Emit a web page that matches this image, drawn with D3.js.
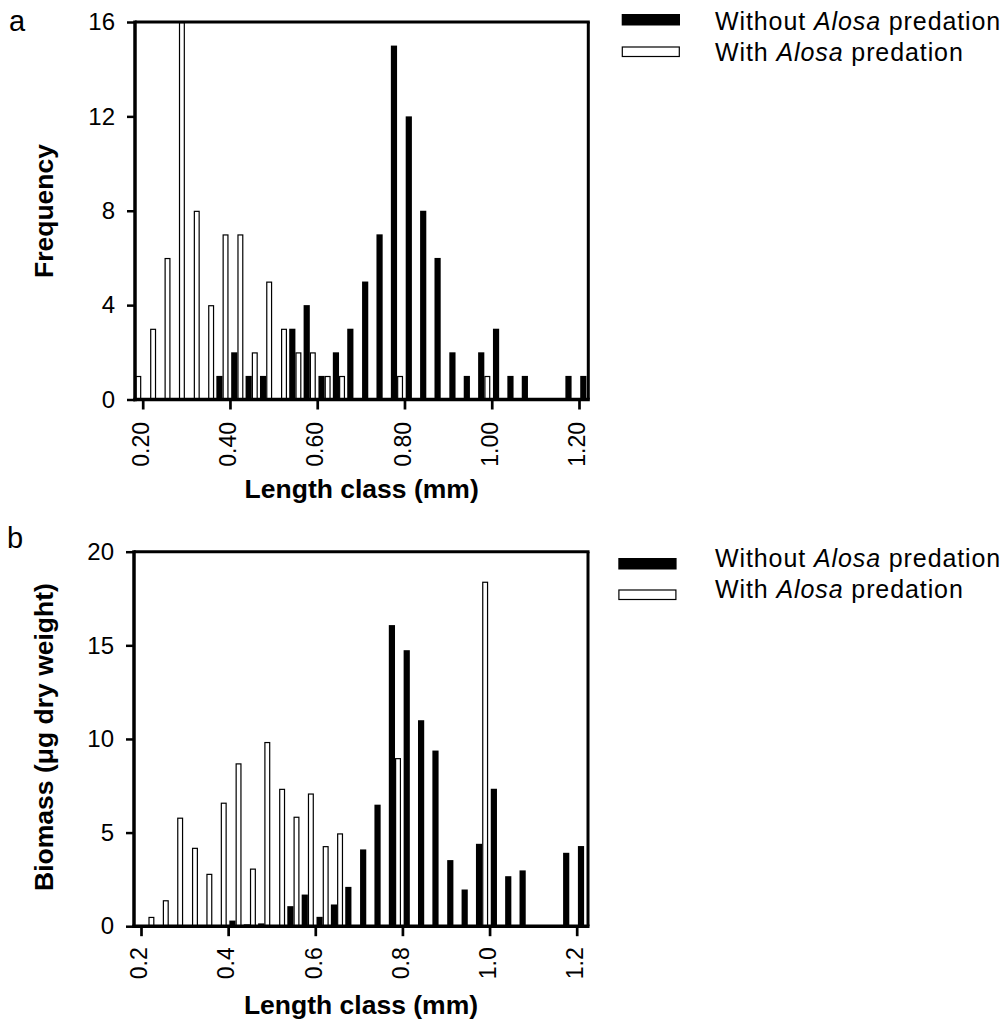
<!DOCTYPE html>
<html>
<head>
<meta charset="utf-8">
<script src="https://cdn.jsdelivr.net/npm/d3@7"></script>
<style>
  body { margin: 0; background: #fff; }
  svg { display: block; font-family: "Liberation Sans", Arial, sans-serif; }
</style>
</head>
<body>
<svg width="1006" height="1032"></svg>
<script>
// length classes (mm), one pair of bars per class
var lengthClass = [0.183, 0.217, 0.250, 0.283, 0.317, 0.350, 0.383, 0.417, 0.450, 0.483,
                   0.517, 0.550, 0.583, 0.617, 0.650, 0.683, 0.717, 0.750, 0.783, 0.817,
                   0.850, 0.883, 0.917, 0.950, 0.983, 1.017, 1.050, 1.083, 1.117, 1.150,
                   1.183, 1.217];

// panel a: frequency
var freqWithout = [0, 0, 0, 0, 0, 0, 1, 2, 1, 1,
                   0, 3, 4, 1, 2, 3, 5, 7, 15, 12,
                   8, 6, 2, 1, 2, 3, 1, 1, 0, 0,
                   1, 1];
var freqWith = [1, 3, 6, 16, 8, 4, 7, 7, 2, 5,
                3, 2, 2, 1, 1, 0, 0, 0, 1, 0,
                0, 0, 0, 0, 1, 0, 0, 0, 0, 0,
                0, 0];

// panel b: biomass (ug dry weight)
var biomassWithout = [0, 0, 0, 0, 0, 0, 0.05, 0.3, 0.1, 0.15,
                      0, 1.07, 1.69, 0.5, 1.16, 2.1, 4.1, 6.49, 16.08, 14.74,
                      11.0, 9.38, 3.53, 1.96, 4.4, 7.34, 2.67, 2.98, 0, 0,
                      3.92, 4.28];
var biomassWith = [0, 0.5, 1.39, 5.8, 4.19, 2.8, 6.6, 8.7, 3.08, 9.84,
                   7.34, 5.85, 7.09, 4.28, 4.96, 0, 0, 0, 8.98, 0,
                   0, 0, 0, 0, 18.4, 0, 0, 0, 0, 0,
                   0, 0];

var freqTicks = [0, 4, 8, 12, 16];
var biomassTicks = [0, 5, 10, 15, 20];
var lengthTicks = [0.2, 0.4, 0.6, 0.8, 1.0, 1.2];
var legendNames = ['Without', 'With'];

var svg = d3.select('svg');
var font = '"Liberation Sans", Arial, sans-serif';
var bw = 6.2;

var panels = [
    { letter: 'a', top: 22, bottom: 399.5, left: 135, right: 588.3, x0: 142.7, x1: 579,
      yMax: 16, ticks: freqTicks, fmt: '.2f', without: freqWithout, with: freqWith,
      ylabel: 'Frequency', ylabelY: 211, xlabelY: 498, tickGap: 22.5,
      letterX: 9, letterY: 31, legX: 621.7, legY: [14, 47], legTextY: [30, 61] },
    { letter: 'b', top: 551.7, bottom: 926.2, left: 134, right: 588, x0: 141, x1: 576.7,
      yMax: 20, ticks: biomassTicks, fmt: '.1f', without: biomassWithout, with: biomassWith,
      ylabel: 'Biomass (\u03bcg dry weight)', ylabelY: 737, xlabelY: 1014, tickGap: 21,
      letterX: 7, letterY: 548, legX: 618.3, legY: [558, 590], legTextY: [567, 598] }
];

panels.forEach(drawPanel);

function drawPanel(p) {
    var x = d3.scaleLinear().domain([0.2, 1.2]).range([p.x0, p.x1]);
    var y = d3.scaleLinear().domain([0, p.yMax]).range([p.bottom, p.top]);
    var g = svg.append('g');

    var rows = lengthClass.map(function(c, i) {
        return { c: c, without: p.without[i], with: p.with[i] };
    });

    // black bars (left of class mark)
    g.selectAll('rect.black')
        .data(rows.filter(function(d) { return d.without > 0; }))
        .enter()
        .append('rect')
        .attr('class', 'black')
        .attr('x', function(d) { return x(d.c) - bw; })
        .attr('y', function(d) { return y(d.without); })
        .attr('width', bw)
        .attr('height', function(d) { return y(0) - y(d.without); })
        .attr('fill', '#000');

    // open bars (right of class mark)
    g.selectAll('rect.open')
        .data(rows.filter(function(d) { return d.with > 0; }))
        .enter()
        .append('rect')
        .attr('class', 'open')
        .attr('x', function(d) { return x(d.c) + 0.6; })
        .attr('y', function(d) { return y(d.with) + 0.6; })
        .attr('width', bw - 1.4)
        .attr('height', function(d) { return Math.max(0, y(0) - y(d.with) - 0.6); })
        .attr('fill', '#fff')
        .attr('stroke', '#000')
        .attr('stroke-width', 1.2);

    // y axis
    var yAxis = g.append('g')
        .attr('transform', 'translate(' + p.left + ',0)')
        .call(d3.axisLeft(y).tickValues(p.ticks).tickSizeInner(8).tickSizeOuter(0).tickPadding(12));
    yAxis.select('.domain').remove();
    yAxis.selectAll('line').attr('stroke', '#000').attr('stroke-width', 2.5);
    yAxis.selectAll('text')
        .attr('fill', '#000')
        .style('font-family', font)
        .style('font-size', '24px');

    // x axis
    var xAxis = g.append('g')
        .attr('transform', 'translate(0,' + p.bottom + ')')
        .call(d3.axisBottom(x).tickValues(lengthTicks).tickFormat(d3.format(p.fmt)).tickSizeInner(10).tickSizeOuter(0));
    xAxis.select('.domain').remove();
    xAxis.selectAll('line').attr('stroke', '#000').attr('stroke-width', 2.7);
    xAxis.selectAll('text')
        .attr('fill', '#000')
        .attr('transform', 'rotate(-90)')
        .attr('x', -p.tickGap)
        .attr('y', 0)
        .attr('dy', '0.25em')
        .style('text-anchor', 'end')
        .style('font-family', font)
        .style('font-size', '23px');

    // frame
    g.append('line').attr('x1', p.left).attr('x2', p.left).attr('y1', p.top - 1.5).attr('y2', p.bottom + 1.7)
        .attr('stroke', '#000').attr('stroke-width', 3.5);
    g.append('line').attr('x1', p.left - 1.7).attr('x2', p.right + 1.5).attr('y1', p.bottom).attr('y2', p.bottom)
        .attr('stroke', '#000').attr('stroke-width', 3.5);
    g.append('line').attr('x1', p.left).attr('x2', p.right + 1.5).attr('y1', p.top).attr('y2', p.top)
        .attr('stroke', '#000').attr('stroke-width', 3);
    g.append('line').attr('x1', p.right).attr('x2', p.right).attr('y1', p.top).attr('y2', p.bottom)
        .attr('stroke', '#000').attr('stroke-width', 3);

    // axis titles
    g.append('text')
        .attr('x', (p.left + p.right) / 2)
        .attr('y', p.xlabelY)
        .style('text-anchor', 'middle')
        .style('font-weight', 'bold')
        .style('font-size', '26.5px')
        .text('Length class (mm)');

    g.append('text')
        .attr('transform', 'translate(53,' + p.ylabelY + ') rotate(-90)')
        .style('text-anchor', 'middle')
        .style('font-weight', 'bold')
        .style('font-size', '26.5px')
        .text(p.ylabel);

    // panel letter
    g.append('text')
        .attr('x', p.letterX)
        .attr('y', p.letterY)
        .style('font-size', '29px')
        .text(p.letter);

    // legend
    legendNames.forEach(function(name, i) {
        var sw = g.append('rect')
            .attr('x', p.legX + (i ? 0.6 : 0))
            .attr('y', p.legY[i])
            .attr('width', i ? 57 : 58.3)
            .attr('height', i ? 9.5 : 11.5);
        if (i) {
            sw.attr('fill', '#fff').attr('stroke', '#000').attr('stroke-width', 1.2);
        } else {
            sw.attr('fill', '#000');
        }
        var t = g.append('text')
            .attr('x', 715)
            .attr('y', p.legTextY[i])
            .style('font-size', '25px')
            .style('letter-spacing', '0.9px')
            .style('white-space', 'pre');
        t.append('tspan').text(name + ' ');
        t.append('tspan').style('font-style', 'italic').text('Alosa');
        t.append('tspan').text(' predation');
    });
}
</script>
</body>
</html>
